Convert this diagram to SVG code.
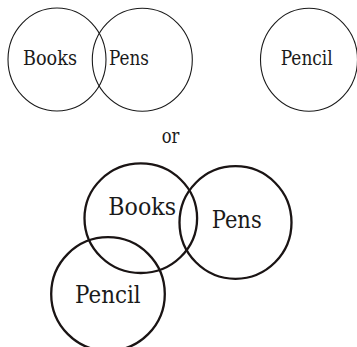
<svg xmlns="http://www.w3.org/2000/svg" width="357" height="347" viewBox="0 0 357 347">
<style>
.thin{fill:none;stroke:#1a1a1a;stroke-width:1.1}
.thick{fill:none;stroke:#1a1414;stroke-width:2.3}
.d{font-family:'DejaVu Serif','Liberation Serif',serif;fill:#1a1a1a}
.s{font-size:19.5px}
.b{font-size:23.5px}
</style>
<rect width="357" height="347" fill="#fff"/>
<g id="top-books"><ellipse class="thin" cx="57" cy="59.5" rx="49" ry="51.5"/><text class="d s" x="23" y="65" textLength="54" lengthAdjust="spacingAndGlyphs">Books</text></g>
<g id="top-pens"><ellipse class="thin" cx="142.3" cy="59.7" rx="50" ry="51.5"/><text class="d s" x="109" y="65" textLength="40" lengthAdjust="spacingAndGlyphs">Pens</text></g>
<g id="top-pencil"><ellipse class="thin" cx="309" cy="59.7" rx="48.5" ry="51.5"/><text class="d s" x="280.7" y="65" textLength="52" lengthAdjust="spacingAndGlyphs">Pencil</text></g>
<g id="or"><text class="d s" x="161.7" y="142.7" textLength="17.6" lengthAdjust="spacingAndGlyphs">or</text></g>
<g id="bottom-books"><ellipse class="thick" cx="140.8" cy="218.2" rx="56.3" ry="54.8"/><text class="d b" x="108.3" y="215" textLength="67.7" lengthAdjust="spacingAndGlyphs">Books</text></g>
<g id="bottom-pens"><ellipse class="thick" cx="235.5" cy="222.5" rx="56" ry="56.3"/><text class="d b" x="211.7" y="228.3" textLength="50" lengthAdjust="spacingAndGlyphs">Pens</text></g>
<g id="bottom-pencil"><ellipse class="thick" cx="108" cy="294" rx="56.8" ry="56.8"/><text class="d b" x="75" y="302.7" textLength="65.7" lengthAdjust="spacingAndGlyphs">Pencil</text></g>
<g id="connectors"/>
</svg>
